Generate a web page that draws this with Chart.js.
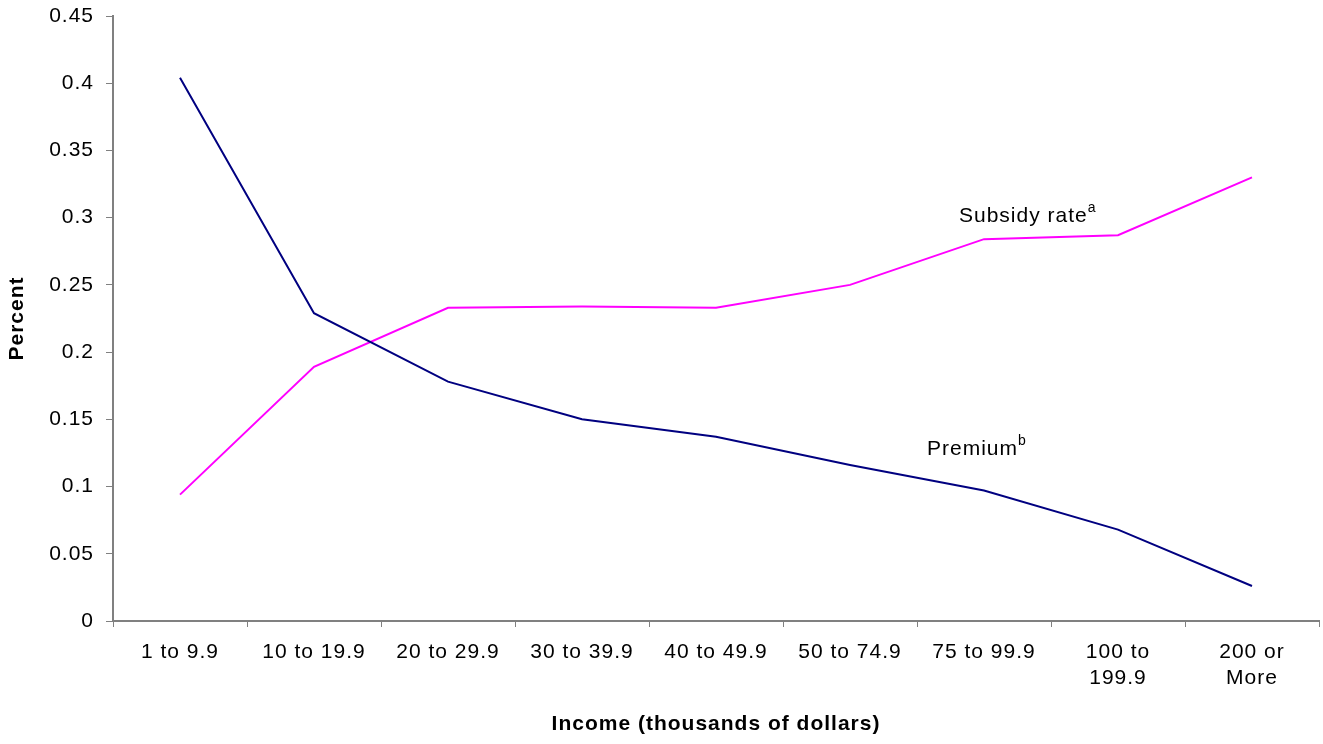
<!DOCTYPE html>
<html>
<head>
<meta charset="utf-8">
<script src="https://cdn.jsdelivr.net/npm/chart.js@4/dist/chart.umd.min.js"></script>
<style>
  html, body { margin: 0; padding: 0; background: #fff; }
  #wrap { width: 1323px; height: 744px; }
</style>
</head>
<body>
<div id="wrap"><canvas id="chart"></canvas></div>
<script>
const incomeLabels = [
  '1 to 9.9', '10 to 19.9', '20 to 29.9', '30 to 39.9', '40 to 49.9',
  '50 to 74.9', '75 to 99.9', ['100 to', '199.9'], ['200 or', 'More']
];
const premium = [0.404, 0.229, 0.178, 0.150, 0.137, 0.116, 0.097, 0.068, 0.026];
const subsidyRate = [0.094, 0.189, 0.233, 0.234, 0.233, 0.250, 0.284, 0.287, 0.330];

const FONT = "'Liberation Sans', Arial, sans-serif";

// canvas letter spacing, the original text is spaced out a bit
const spacing = {
  id: 'spacing',
  beforeUpdate(chart) { chart.ctx.letterSpacing = '1px'; },
  beforeDraw(chart) { chart.ctx.letterSpacing = '1px'; }
};

// line labels with superscripts
const lineLabels = {
  id: 'lineLabels',
  afterDatasetsDraw(chart) {
    const ctx = chart.ctx;
    const x = chart.scales.x, y = chart.scales.y;
    const put = (text, sup, px, py) => {
      ctx.save();
      ctx.letterSpacing = '1px';
      ctx.fillStyle = '#000';
      ctx.textBaseline = 'alphabetic';
      ctx.textAlign = 'left';
      ctx.font = '21px ' + FONT;
      ctx.fillText(text, px, py);
      const w = ctx.measureText(text).width;
      ctx.font = '14px ' + FONT;
      ctx.fillText(sup, px + w, py - 10);
      ctx.restore();
    };
    put('Subsidy rate', 'a', x.getPixelForValue(6) - 25, y.getPixelForValue(0.3) + 4);
    put('Premium', 'b', x.getPixelForValue(6) - 57, y.getPixelForValue(0.125) + 2);
  }
};

new Chart(document.getElementById('chart'), {
  type: 'line',
  data: {
    labels: incomeLabels,
    datasets: [
      {
        label: 'Premium',
        data: premium,
        borderColor: '#000080',
        borderWidth: 2,
        pointRadius: 0,
        tension: 0,
        fill: false
      },
      {
        label: 'Subsidy rate',
        data: subsidyRate,
        borderColor: '#FF00FF',
        borderWidth: 2,
        pointRadius: 0,
        tension: 0,
        fill: false
      }
    ]
  },
  options: {
    responsive: true,
    maintainAspectRatio: false,
    animation: false,
    layout: { padding: { top: 0, right: 4, bottom: 0, left: 0 } },
    plugins: {
      legend: { display: false },
      tooltip: { enabled: false }
    },
    scales: {
      x: {
        offset: true,
        grid: {
          offset: true,
          drawOnChartArea: false,
          drawTicks: true,
          tickLength: 6,
          color: '#808080'
        },
        border: { color: '#808080', width: 2 },
        ticks: {
          color: '#000',
          font: { family: FONT, size: 21, lineHeight: 1.2 },
          padding: 13,
          maxRotation: 0,
          autoSkip: false
        },
        title: {
          display: true,
          text: 'Income (thousands of dollars)',
          color: '#000',
          font: { family: FONT, size: 21, weight: 'bold' },
          padding: { top: 4, bottom: 7 }
        },
        afterFit(scale) { scale.height = 123; }
      },
      y: {
        min: 0,
        max: 0.45,
        ticks: {
          stepSize: 0.05,
          color: '#000',
          font: { family: FONT, size: 21 },
          padding: 12,
          callback: v => String(Math.round(v * 100) / 100)
        },
        grid: {
          drawOnChartArea: false,
          drawTicks: true,
          tickLength: 7,
          color: '#808080'
        },
        border: { color: '#808080', width: 2 },
        title: {
          display: true,
          text: 'Percent',
          color: '#000',
          font: { family: FONT, size: 21, weight: 'bold' },
          padding: { top: 5, bottom: 4 }
        },
        afterFit(scale) {
          scale.width = 113;
          scale.paddingTop = 16;
          scale.paddingBottom = 0;
        }
      }
    }
  },
  plugins: [spacing, lineLabels]
});
</script>
</body>
</html>
